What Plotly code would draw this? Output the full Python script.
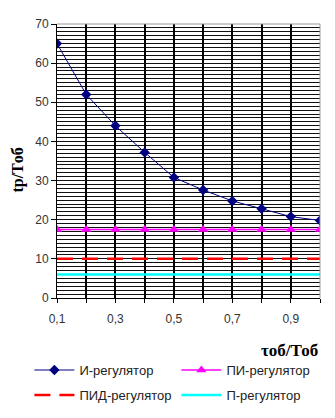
import plotly.graph_objects as go

x_vals = [0.1, 0.2, 0.3, 0.4, 0.5, 0.6, 0.7, 0.8, 0.9, 1.0]
i_reg = [65, 52, 44, 37.2, 30.8, 27.6, 24.8, 22.8, 20.8, 19.8]
pi_reg = [17.5] * 10
pid_reg = [10] * 10
p_reg = [6] * 10
x_ticks = [0.1, 0.2, 0.3, 0.4, 0.5, 0.6, 0.7, 0.8, 0.9, 1.0]
x_ticktext = ["0,1", "", "0,3", "", "0,5", "", "0,7", "", "0,9", ""]

fig = go.Figure()
fig.add_trace(go.Scatter(x=x_vals, y=i_reg, mode="lines+markers", name="И-регулятор",
                         line=dict(color="#000080", width=1), legend="legend",
                         marker=dict(symbol="diamond", size=8, color="#000080")))
fig.add_trace(go.Scatter(x=x_vals, y=pi_reg, mode="lines+markers", name="ПИ-регулятор",
                         line=dict(color="#FF00FF", width=1.5), legend="legend",
                         marker=dict(symbol="triangle-up", size=9, color="#FF00FF")))
fig.add_trace(go.Scatter(x=x_vals, y=pid_reg, mode="lines", name="ПИД-регулятор",
                         line=dict(color="#FF0000", width=2.5, dash="16px,9px"), legend="legend2"))
fig.add_trace(go.Scatter(x=x_vals, y=p_reg, mode="lines", name="П-регулятор",
                         line=dict(color="#00FFFF", width=2.5), legend="legend2"))

leg_common = dict(orientation="h", xanchor="left", yanchor="middle",
                  entrywidth=92, entrywidthmode="pixels",
                  font=dict(size=13, color="#222"), itemwidth=40,
                  bgcolor="rgba(0,0,0,0)")

fig.update_layout(
    width=335, height=418,
    margin=dict(l=57, r=15, t=24, b=120, autoexpand=False),
    paper_bgcolor="white", plot_bgcolor="white",
    font=dict(family="Arial, Liberation Sans", size=12, color="#222"),
    showlegend=True,
    legend=dict(x=-0.105, y=-0.263, **leg_common),
    legend2=dict(x=-0.105, y=-0.354, **leg_common),
    xaxis=dict(range=[0.1, 1.0], tickvals=x_ticks, ticktext=x_ticktext,
               showgrid=True, gridcolor="#000", gridwidth=1.5,
               showline=True, linecolor="#000", linewidth=1, mirror=False,
               ticks="outside", ticklen=4, tickcolor="#000", zeroline=False,
               ticklabelstandoff=6,
               tickfont=dict(size=12, color="#333")),
    yaxis=dict(range=[0, 70], dtick=10, showgrid=True, gridcolor="#111", gridwidth=1,
               minor=dict(dtick=1, showgrid=True, gridcolor="#111", gridwidth=1),
               showline=True, linecolor="#000", linewidth=1,
               ticks="outside", ticklen=5, tickcolor="#000", zeroline=False,
               tickfont=dict(size=12, color="#333")),
    shapes=[dict(type="line", xref="paper", yref="paper", x0=0, x1=1, y0=1, y1=1,
                 line=dict(color="#999", width=1)),
            dict(type="line", xref="paper", yref="paper", x0=1, x1=1, y0=0, y1=1,
                 line=dict(color="#999", width=1))],
    annotations=[
        dict(text="<b>τоб/Тоб</b>", xref="paper", yref="paper", x=1.0, y=-0.19,
             xanchor="right", yanchor="middle", showarrow=False,
             font=dict(family="Liberation Serif, Times New Roman", size=17, color="#000")),
        dict(text="<b>tp/Tоб</b>", xref="paper", yref="paper", x=-0.15, y=0.467,
             xanchor="center", yanchor="middle", showarrow=False, textangle=-90,
             font=dict(family="Liberation Serif, Times New Roman", size=16, color="#000")),
    ],
)

fig.write_html("out.html")
